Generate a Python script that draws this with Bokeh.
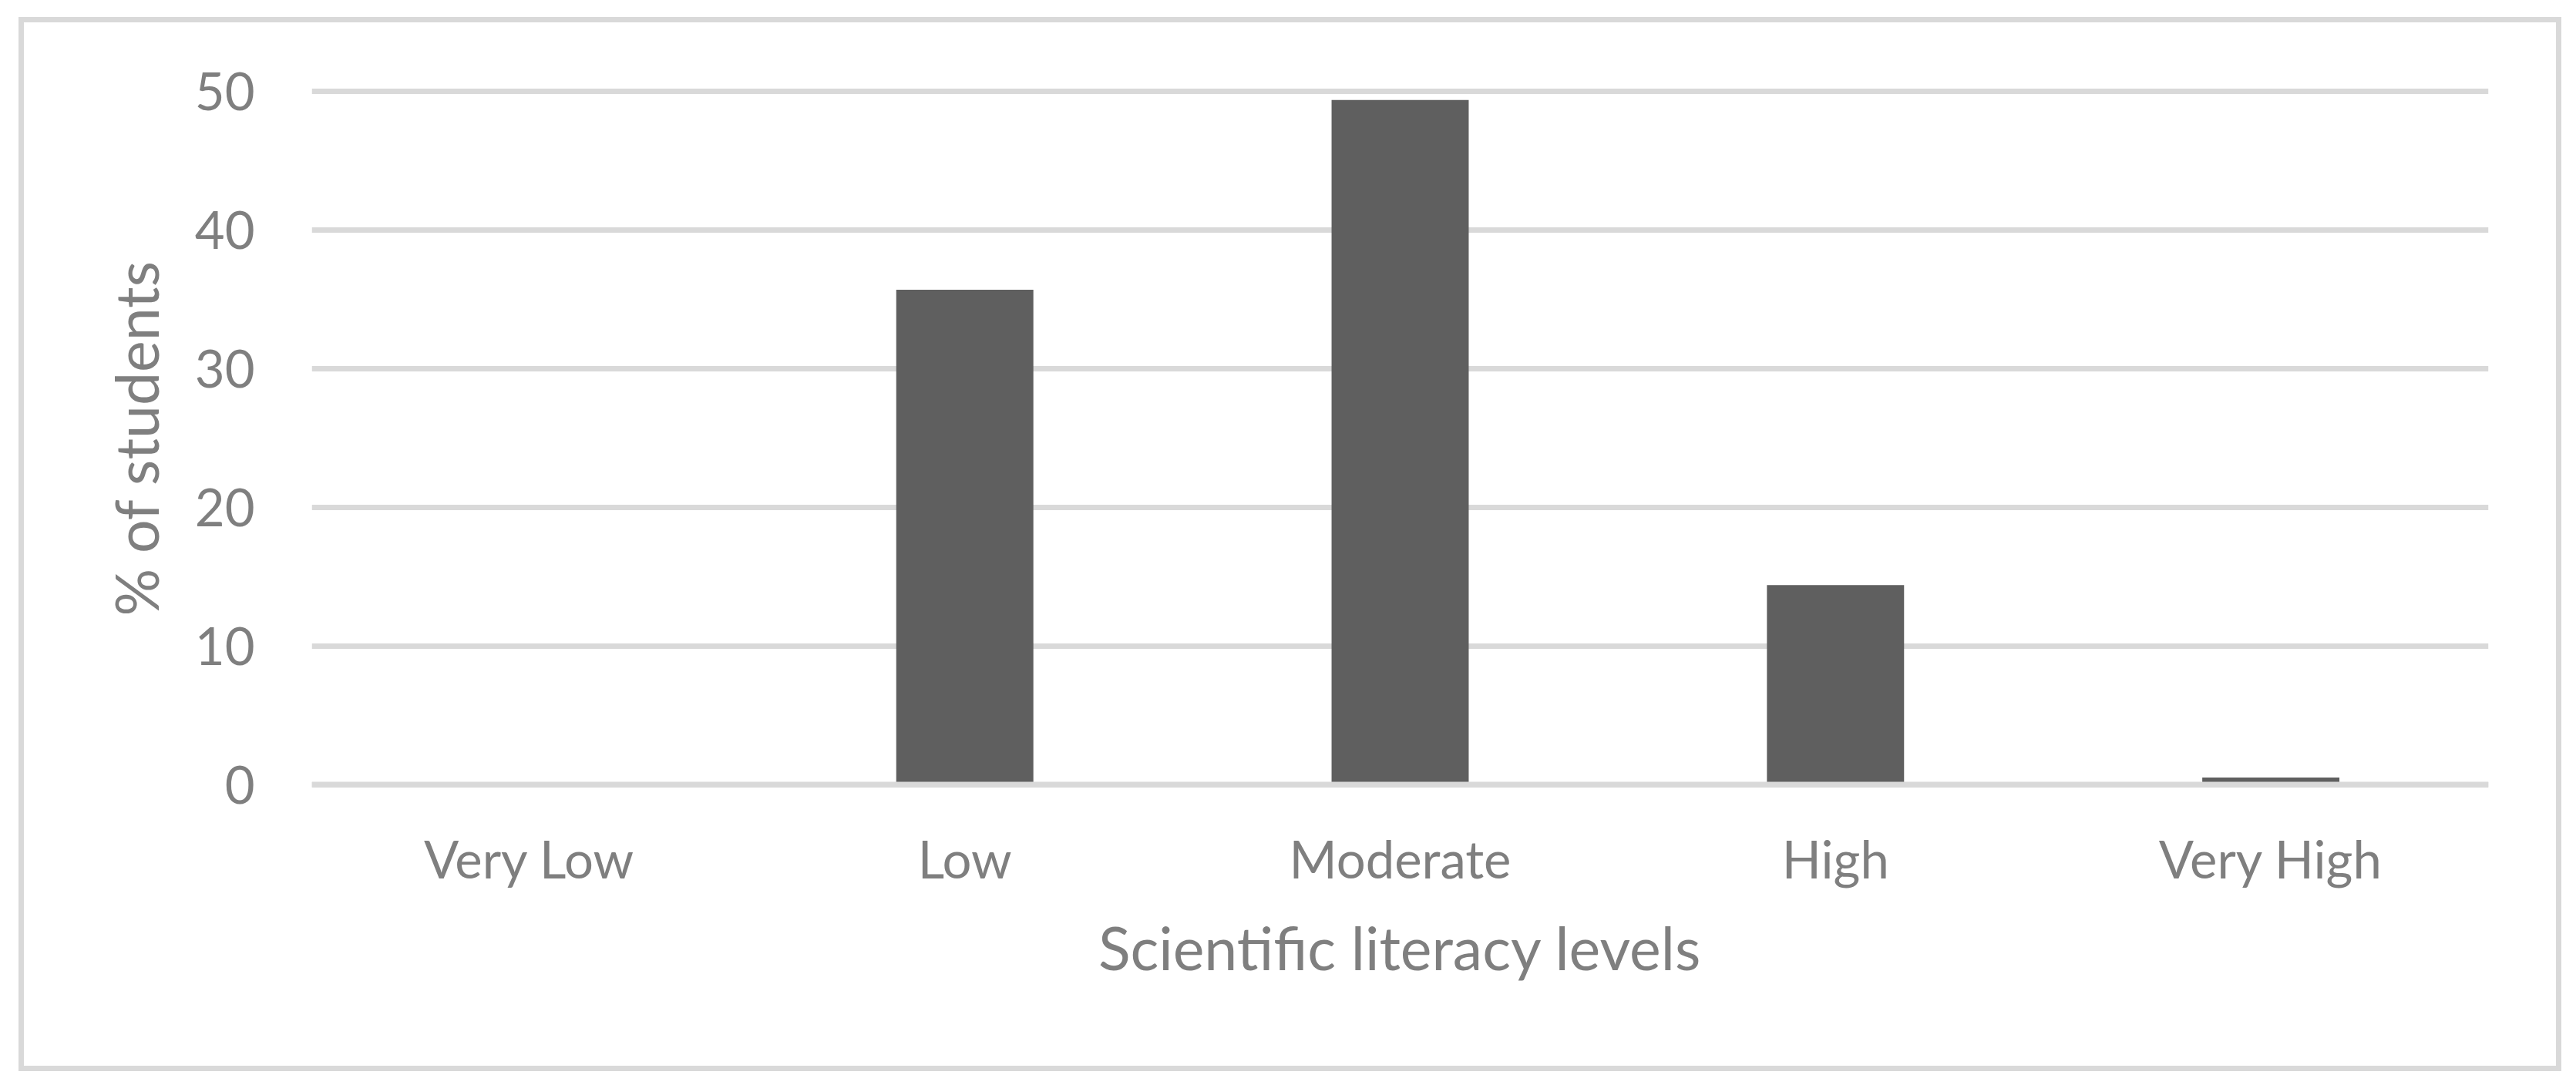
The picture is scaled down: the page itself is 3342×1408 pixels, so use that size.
from bokeh.plotting import figure
from bokeh.models import ColumnDataSource, FactorRange, Range1d, FixedTicker, Span, InlineStyleSheet
from bokeh.embed import file_html
from bokeh.resources import INLINE

# ---- data ----
levels = ["Very Low", "Low", "Moderate", "High", "Very High"]
pct_students = [0.0, 35.7, 49.4, 14.4, 0.5]
y_ticks = [0, 10, 20, 30, 40, 50]
x_title = "Scientific literacy levels"
y_title = "% of students"

TEXT = "#7f7f7f"
GRID = "#d9d9d9"
BAR = "#5f5f5f"
FONT = "Lato"

W, H = 3342, 1408
source = ColumnDataSource(dict(level=levels, pct=pct_students))

# outer chart-area border (Excel chart frame), drawn as a CSS overlay on the figure
border_css = InlineStyleSheet(css=f"""
:host {{ position: relative; }}
:host::after {{
  content: "";
  position: absolute;
  left: 24px; top: 22px;
  width: 3299px; height: 1368px;
  box-sizing: border-box;
  border: 7px solid {GRID};
  pointer-events: none;
  z-index: 100;
}}
""")

p = figure(
    x_range=FactorRange(*levels, range_padding=0),
    y_range=Range1d(-0.3, 50.3),
    width=W, height=H,
    output_backend="svg", toolbar_location=None,
    min_border_left=404, min_border_right=114,
    min_border_top=113, min_border_bottom=385,
    stylesheets=[border_css],
)
p.outline_line_color = None
p.background_fill_color = "white"
p.border_fill_color = "white"

p.vbar(x="level", top="pct", bottom=0, width=0.315, source=source,
       fill_color=BAR, line_color=None)

# axis line at zero drawn above bars (Excel category axis)
p.add_layout(Span(location=0, dimension="width", line_color=GRID, line_width=7, level="overlay"))

# grid
p.xgrid.grid_line_color = None
p.ygrid.grid_line_color = GRID
p.ygrid.grid_line_width = 7
p.yaxis.ticker = FixedTicker(ticks=y_ticks)

for ax in (p.xaxis, p.yaxis):
    ax.axis_line_color = None
    ax.major_tick_line_color = None
    ax.minor_tick_line_color = None
    ax.major_label_text_color = TEXT
    ax.major_label_text_font = FONT
    ax.major_label_text_font_size = "67px"
    ax.axis_label_text_color = TEXT
    ax.axis_label_text_font = FONT
    ax.axis_label_text_font_size = "77px"
    ax.axis_label_text_font_style = "normal"

p.yaxis.major_label_standoff = 68
p.yaxis.axis_label = y_title
p.yaxis.axis_label_standoff = 28
p.xaxis.major_label_standoff = 44
p.xaxis.axis_label = x_title
p.xaxis.axis_label_standoff = 26

open("out.html", "w").write(file_html(p, INLINE))
